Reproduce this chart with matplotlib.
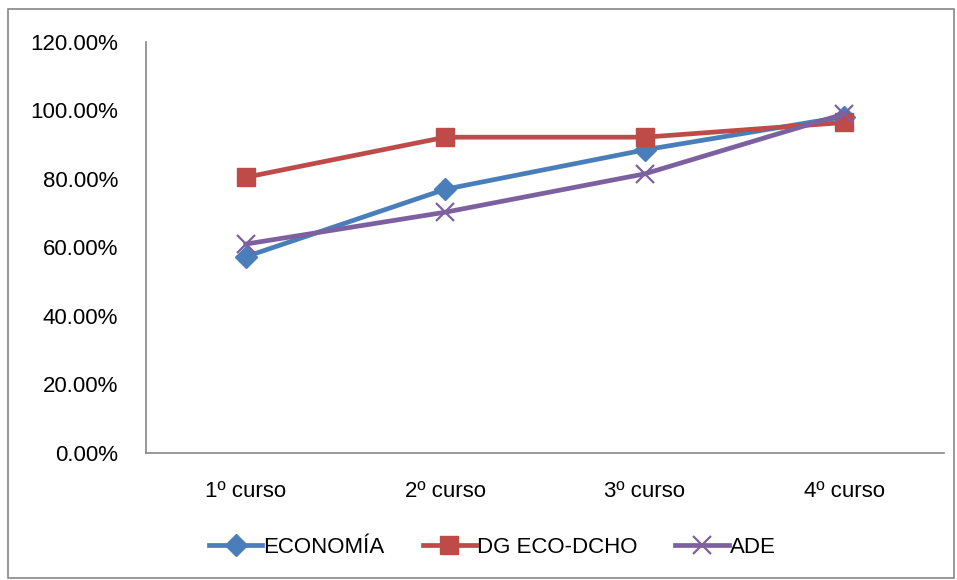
import matplotlib.pyplot as plt
from matplotlib.patches import Rectangle
from matplotlib.ticker import FuncFormatter

plt.rcParams['font.family'] = ['Liberation Sans', 'DejaVu Sans']

categories = ['1º curso', '2º curso', '3º curso', '4º curso']
economia = [57.3, 77.0, 88.5, 98.2]
dg_eco_dcho = [80.5, 92.2, 92.2, 96.5]
ade = [61.0, 70.3, 81.5, 99.0]

fig = plt.figure(figsize=(9.57, 5.8), dpi=100)
ax = fig.add_axes([0.1526, 0.219, 0.8338, 0.7086])

x = list(range(len(categories)))
ax.plot(x, economia, color='#4A7EBB', lw=3.4, marker='D', ms=11.5, label='ECONOMÍA')
ax.plot(x, dg_eco_dcho, color='#BE4B48', lw=3.4, marker='s', ms=13, label='DG ECO-DCHO')
ax.plot(x, ade, color='#7D60A0', lw=3.4, marker='x', ms=13, mew=1.6, label='ADE')

ax.set_xlim(-0.5, len(categories) - 0.5)
ax.set_ylim(0, 120)
ax.set_yticks(range(0, 121, 20))
ax.yaxis.set_major_formatter(FuncFormatter(lambda v, p: f'{v:.2f}%'))
ax.set_xticks(x)
ax.set_xticklabels(categories)
ax.tick_params(length=0, labelsize=16, colors='black')
ax.tick_params(axis='y', pad=20)
ax.tick_params(axis='x', pad=20)

for s in ['top', 'right']:
    ax.spines[s].set_visible(False)
for s in ['left', 'bottom']:
    ax.spines[s].set_color('#868686')
    ax.spines[s].set_linewidth(1.2)

ax.legend(loc='upper center', bbox_to_anchor=(0.434, -0.155), ncol=3, frameon=False,
          fontsize=16, handlelength=2.4, handletextpad=0.05, columnspacing=1.7)

fig.patches.append(Rectangle((8 / 957, 2 / 580), 946 / 957, 569 / 580, transform=fig.transFigure,
                             fill=False, edgecolor='#868686', lw=1.2))

fig.savefig('out.png', dpi=100)
